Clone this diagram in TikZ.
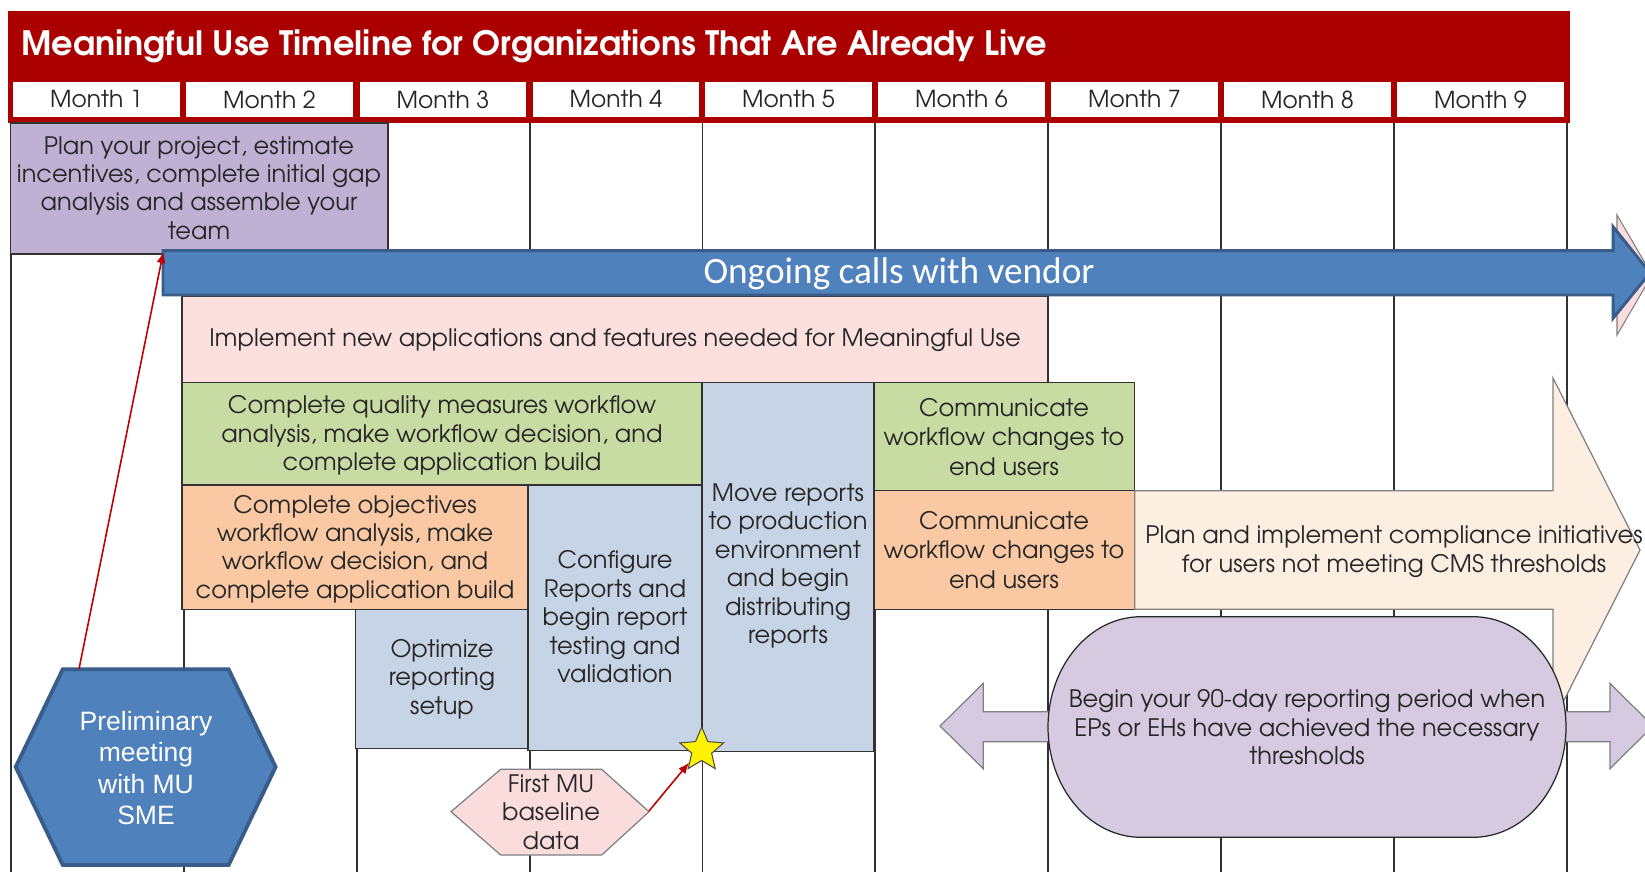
\documentclass[tikz,border=0pt]{standalone}
\usepackage{fontspec}
\usetikzlibrary{arrows.meta,shapes.geometric}

\newfontfamily\gothic{TeX Gyre Adventor}
\newfontfamily\carlito{Carlito}
\newfontfamily\arialfont{Liberation Sans}

\definecolor{bannerred}{RGB}{170,0,0}
\definecolor{ink}{RGB}{38,38,38}
\definecolor{gridline}{RGB}{50,50,50}
\definecolor{lavender}{RGB}{191,177,211}
\definecolor{vendorblue}{RGB}{79,129,189}
\definecolor{vendoredge}{RGB}{56,93,138}
\definecolor{implpink}{RGB}{252,224,221}
\definecolor{buildgreen}{RGB}{200,219,162}
\definecolor{buildorange}{RGB}{250,201,163}
\definecolor{reportblue}{RGB}{199,212,229}
\definecolor{peach}{RGB}{253,238,226}
\definecolor{periodlilac}{RGB}{213,202,224}
\definecolor{datapink}{RGB}{250,220,220}
\definecolor{arrowred}{RGB}{192,0,0}

\tikzset{
  col/.style={draw=gridline, line width=0.85pt},
  cell/.style={draw=gridline, line width=0.85pt},
  txt/.style={align=center, text=ink, inner sep=0pt,
    font=\gothic\fontsize{13.7}{16.2}\selectfont},
  month/.style={fill=white, minimum width=3.334cm, minimum height=0.712cm,
    inner sep=0pt, text=ink, font=\gothic\fontsize{13.3}{15}\selectfont},
  redlink/.style={draw=arrowred, line width=0.9pt,
    -{Latex[length=2.2mm,width=1.8mm]}},
}

\begin{document}
\begin{tikzpicture}[x=0.02cm,y=-0.02cm]
\useasboundingbox (0,0) rectangle (1645,872);
\clip (0,0) rectangle (1645,872);
\fill[white] (0,0) rectangle (1645,872);

% month columns
\draw[col] (11,123) -- (11,872);
\draw[col] (184,123) -- (184,872);
\draw[col] (357,123) -- (357,872);
\draw[col] (530,123) -- (530,872);
\draw[col] (702.5,123) -- (702.5,872);
\draw[col] (875,123) -- (875,872);
\draw[col] (1048,123) -- (1048,872);
\draw[col] (1221,123) -- (1221,872);
\draw[col] (1394,123) -- (1394,872);
\draw[col] (1567,123) -- (1567,872);

% banner and month headings
\fill[bannerred] (7.5,10.7) rectangle (1570,123);
\node[anchor=west, text=white, inner sep=0pt,
  font=\gothic\bfseries\fontsize{19.1}{22}\selectfont] (title) at (21,46)
  {Meaningful Use Timeline for Organizations That Are Already Live};

\node[month] (m1) at (96.5,99.5) {Month 1};
\node[month] (m2) at (269.5,99.5) {Month 2};
\node[month] (m3) at (443,99.5) {Month 3};
\node[month] (m4) at (616,99.5) {Month 4};
\node[month] (m5) at (788.5,99.5) {Month 5};
\node[month] (m6) at (961.5,99.5) {Month 6};
\node[month] (m7) at (1134.5,99.5) {Month 7};
\node[month] (m8) at (1307.5,99.5) {Month 8};
\node[month] (m9) at (1480.5,99.5) {Month 9};

% planning
\draw[cell, fill=lavender] (10.5,123) rectangle (388,254);
\node[txt] (plan) at (199,188)
  {Plan your project, estimate\\incentives, complete initial gap\\analysis and assemble your\\team};

% task blocks
\draw[cell, fill=implpink] (182,296.7) rectangle (1047.4,382.7);
\node[txt] (implement) at (615,340)
  {Implement new applications and features needed for Meaningful Use};

\draw[cell, fill=buildgreen] (182,382.7) rectangle (702,485);
\node[txt] (quality) at (442,435.5)
  {Complete quality measures workflow\\analysis, make workflow decision, and\\complete application build};

\draw[cell, fill=reportblue] (702,382.7) rectangle (874,751.7);
\node[txt] (move) at (788,566)
  {Move reports\\to production\\environment\\and begin\\distributing\\reports};

\draw[cell, fill=buildgreen] (874,382.7) rectangle (1134.7,490.7);
\node[txt, font=\gothic\fontsize{13.7}{17}\selectfont] (commA) at (1004,437)
  {Communicate\\workflow changes to\\end users};

\draw[cell, fill=buildorange] (182,485) rectangle (528,609.3);
\node[txt] (objectives) at (355,549)
  {Complete objectives\\workflow analysis, make\\workflow decision, and\\complete application build};

\draw[cell, fill=reportblue] (528,485) rectangle (702,750.7);
\node[txt] (configure) at (615,617)
  {Configure\\Reports and\\begin report\\testing and\\validation};

\draw[cell, fill=reportblue] (355.6,609.3) rectangle (528,748.3);
\node[txt] (optimize) at (442,679) {Optimize\\reporting\\setup};

\draw[cell, fill=buildorange] (874,490.7) rectangle (1134.7,609.3);
\node[txt, font=\gothic\fontsize{13.7}{17}\selectfont] (commB) at (1004,550)
  {Communicate\\workflow changes to\\end users};

% compliance arrow
\draw[draw=gray, line width=0.7pt, fill=peach]
  (1134.7,490.7) -- (1553,490.7) -- (1553,378) -- (1640,550)
  -- (1553,722) -- (1553,609.3) -- (1134.7,609.3) -- cycle;
\node[txt] (compliance) at (1394,551.5)
  {Plan and implement compliance initiatives\\for users not meeting CMS thresholds};

% vendor calls
\draw[draw=gray, line width=0.6pt, fill=datapink]
  (1617,215) -- (1652,275) -- (1617,335) -- cycle;
\draw[draw=vendoredge, line width=1.7pt, fill=vendorblue]
  (163,250.7) -- (1613,250.7) -- (1613,226.7) -- (1650,272.8)
  -- (1613,318.3) -- (1613,295) -- (163,295) -- cycle;
\node[text=white, inner sep=0pt, font=\carlito\fontsize{21.2}{24}\selectfont]
  (vendor) at (899,274) {Ongoing calls with vendor};

% reporting period
\draw[draw=gray, line width=0.7pt, fill=periodlilac]
  (940,726) -- (983.3,683.3) -- (983.3,711.7) -- (1610,711.7) -- (1610,683.3)
  -- (1653,726) -- (1610,768.7) -- (1610,741.7) -- (983.3,741.7)
  -- (983.3,768.7) -- cycle;
\draw[draw=ink, line width=0.7pt, fill=periodlilac]
  (1141,616.7) -- (1473,616.7)
  arc[start angle=270, end angle=450, x radius=93, y radius=110.3]
  -- (1141,837.3)
  arc[start angle=90, end angle=270, x radius=93, y radius=110.3] -- cycle;
\node[txt] (period) at (1307,727.5)
  {Begin your 90-day reporting period when\\EPs or EHs have achieved the necessary\\thresholds};

% kick-off meeting
\draw[draw=vendoredge, line width=2.2pt, fill=vendorblue]
  (15.7,767) -- (62.8,669.3) -- (228.6,669.3) -- (275.6,767)
  -- (228.6,865) -- (62.8,865) -- cycle;
\node[align=center, text=white, inner sep=0pt,
  font=\arialfont\fontsize{15.1}{18}\selectfont] (prelim) at (146,768)
  {Preliminary\\meeting\\with MU\\SME};
\coordinate (prelimtop) at (79,669);
\coordinate (vendortail) at (163.3,252);
\draw[redlink] (prelimtop) -- (vendortail);

% baseline data
\draw[draw=gray, line width=0.7pt, fill=datapink]
  (451,811.7) -- (500.7,769.3) -- (601.7,769.3) -- (649,811.7)
  -- (601.7,855) -- (500.7,855) -- cycle;
\node[txt] (firstmu) at (551,812) {First MU\\baseline\\data};
\node[star, star points=5, star point ratio=2.2, minimum size=0.92cm,
  inner sep=0pt, fill=yellow, draw=black!70, line width=0.6pt]
  (milestone) at (701.7,750) {};
\coordinate (firstmutip) at (649,811);
\draw[redlink] (firstmutip) -- (milestone.225);
\end{tikzpicture}
\end{document}
